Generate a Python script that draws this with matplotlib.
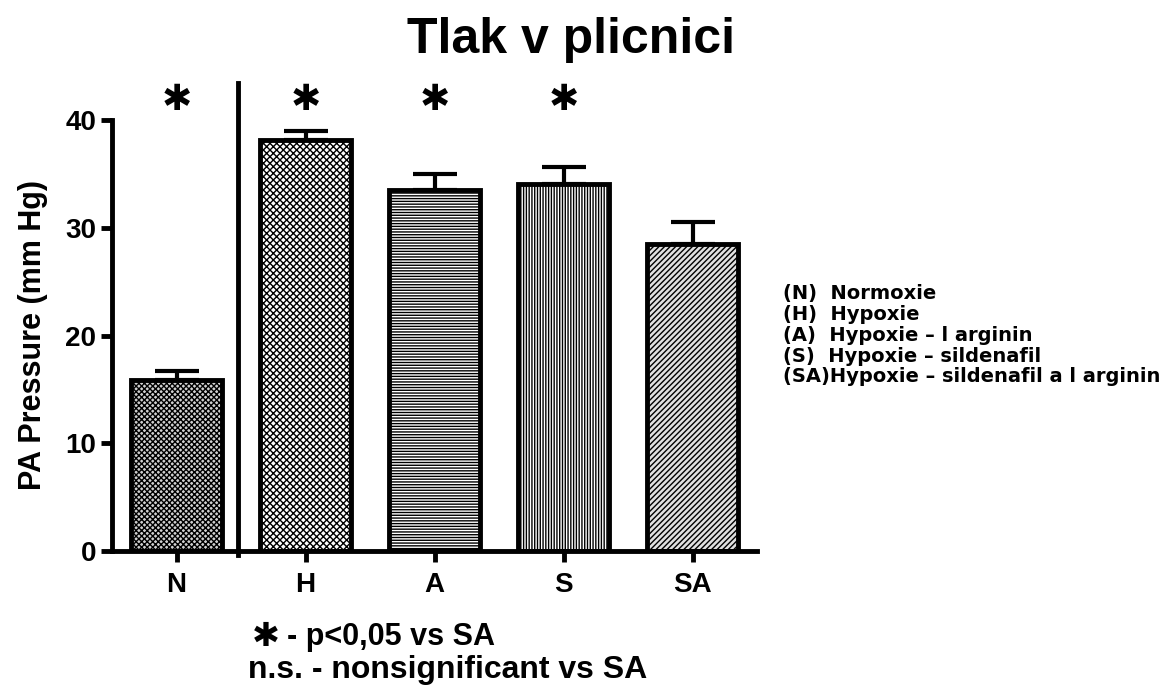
import matplotlib.pyplot as plt
import matplotlib as mpl

skupiny = ['N', 'H', 'A', 'S', 'SA']
tlak = [15.9, 38.1, 33.5, 34.1, 28.5]
sem = [0.8, 0.9, 1.5, 1.5, 2.0]
vyznamne = [True, True, True, True, False]
vzory = ['xxxxxx', 'xxxxx', '------', '||||||', '//////']
vyplne = ['#d0d0d0', 'white', 'white', 'white', '#e0e0e0']
legenda = ['(N)  Normoxie', '(H)  Hypoxie', '(A)  Hypoxie \u2013 l arginin',
           '(S)  Hypoxie \u2013 sildenafil', '(SA)Hypoxie \u2013 sildenafil a l arginin']

plt.rcParams['font.family'] = ['Liberation Sans', 'DejaVu Sans']
plt.rcParams['hatch.linewidth'] = 1.0

fig = plt.figure(figsize=(11.65, 6.86), dpi=100)
ax = fig.add_axes([112/1165, 1-551/686, (757-112)/1165, (551-120)/686])

x = range(len(skupiny))
ax.bar(x, tlak, width=0.7, color=vyplne, edgecolor='black', linewidth=3.5,
       hatch=vzory, zorder=2)
ax.errorbar(x, tlak, yerr=[[0]*5, sem], fmt='none', ecolor='black',
            elinewidth=3, capsize=16, capthick=3, zorder=1)

# hvezdicky nad vyznamnymi skupinami
for i, v in enumerate(vyznamne):
    if v:
        ax.text(i, 41.9, '\u2731', ha='center', va='center', fontsize=26,
                family=['DejaVu Sans'], clip_on=False)

# svisla cara mezi N a H
ax.plot([0.48, 0.48], [-0.4, 43.4], color='black', lw=3.5, clip_on=False)

ax.set_xlim(-0.5, 4.5)
ax.set_ylim(0, 40)
ax.set_yticks([0, 10, 20, 30, 40])
ax.set_xticks(list(x))
ax.set_xticklabels(skupiny)
for s in ['top', 'right']:
    ax.spines[s].set_visible(False)
for s in ['left', 'bottom']:
    ax.spines[s].set_linewidth(3.5)
ax.tick_params(axis='both', direction='out', length=8, width=3.5,
               labelsize=20)
ax.tick_params(axis='x', pad=7)
for lab in ax.get_xticklabels() + ax.get_yticklabels():
    lab.set_fontweight('bold')
ax.set_ylabel('PA Pressure (mm Hg)', fontsize=22, fontweight='bold', labelpad=12)

fig.text(0.49, 1-40/686, 'Tlak v plicnici', ha='center', va='center',
         fontsize=36, fontweight='bold')

for k, t in enumerate(legenda):
    fig.text(783/1165, 1-(293+21*k)/686, t, ha='left', va='center',
             fontsize=14, fontweight='bold',
             family=['Liberation Sans Narrow', 'DejaVu Sans'])

fig.text(252/1165, 1-637/686, '\u2731', ha='left', va='center', fontsize=24,
         family=['DejaVu Sans'])
fig.text(287/1165, 1-637/686, '- p<0,05 vs SA', ha='left', va='center',
         fontsize=22, fontweight='bold')
fig.text(248/1165, 1-670/686, 'n.s. - nonsignificant vs SA', ha='left',
         va='center', fontsize=23, fontweight='bold')

fig.savefig('out.png', dpi=100)
